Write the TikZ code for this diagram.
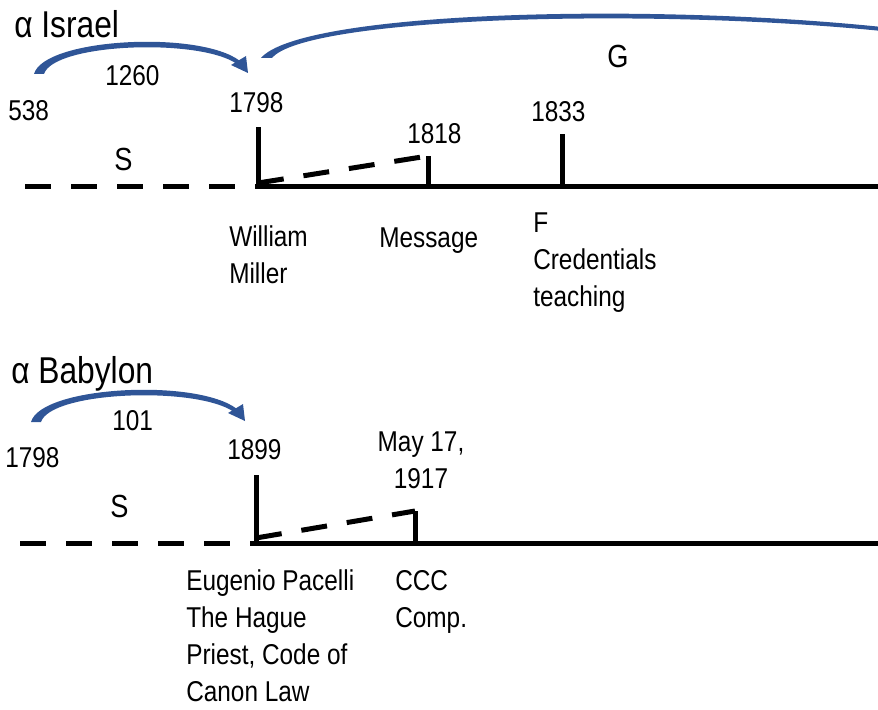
\documentclass[tikz,border=0pt]{standalone}
\usepackage{fontspec}
\setmainfont[FakeStretch=0.85]{Liberation Sans}
\begin{document}
\begin{tikzpicture}[x=0.75pt,y=-0.75pt,
  lbl/.style={anchor=base west,inner sep=0pt,font=\fontsize{21.5}{27.75}\selectfont,align=left},
  ttl/.style={anchor=base west,inner sep=0pt,font=\fontsize{28}{32}\selectfont},
  solidline/.style={line width=3.75pt},
  dashline/.style={line width=3.75pt,dash pattern=on 19.5pt off 15pt},
  tick/.style={line width=3.75pt},
  arrowfill/.style={fill={rgb,255:red,47;green,85;blue,151}}]
\useasboundingbox (0,0) rectangle (878,710);

% ===== Israel =====
\node[ttl] (ti) at (14,38) {α Israel};
\node[lbl] (y538) at (8,120) {538};
\node[lbl] (y1260) at (105,86) {1260};
\node[lbl] (y1798) at (229,113) {1798};
\node[lbl] (y1818) at (407,143) {1818};
\node[lbl] (y1833) at (531,121) {1833};
\node[lbl,font=\fontsize{24}{28}\selectfont] (G) at (607,68) {G};
\node[lbl,font=\fontsize{24}{28}\selectfont] (S1) at (114,170) {S};
\node[lbl] (wm) at (229,283) {William\\Miller};
\node[lbl] (msg) at (379,247) {Message};
\node[lbl] (fct) at (533,306) {F\\Credentials\\teaching};

\coordinate (a0) at (25,186);
\coordinate (a1) at (258,186);
\coordinate (a2) at (878,186);
\coordinate (a1t) at (258,127);
\coordinate (a3) at (428,186);
\coordinate (a3t) at (428,156);
\coordinate (a1s) at (258,183);
\coordinate (a4) at (562,186);
\coordinate (a4t) at (562,134);

\draw[dashline] (a0) -- (a1);
\draw[solidline] (a1) -- (a2);
\draw[tick] (a1t) -- (a1);
\draw[dashline] (a1s) -- (a3t);
\draw[tick] (a3t) -- (a3);
\draw[tick] (a4t) -- (a4);

% small arrow Israel
\fill[arrowfill] (34,74) .. controls (44,38) and (200,30) .. (240,61)
  -- (237,64) .. controls (200,38) and (54,43) .. (44,74) -- cycle;
\fill[arrowfill] (231,65) -- (246,56) -- (248,73) -- cycle;
% big arc G
\fill[arrowfill] (261,58) .. controls (300,12) and (640,2) .. (882,27)
  -- (882,31) .. controls (640,7) and (305,18) .. (272,58) -- cycle;

% ===== Babylon =====
\node[ttl] (tb) at (11,383) {α Babylon};
\node[lbl] (b1798) at (5,467) {1798};
\node[lbl] (b101) at (112,430) {101};
\node[lbl] (b1899) at (227,459) {1899};
\node[lbl,font=\fontsize{24}{28}\selectfont] (S2) at (110,517) {S};
\node[lbl,align=center,anchor=base] (may) at (421,488) {May 17,\\1917};
\node[lbl] (ep) at (186,701) {Eugenio Pacelli\\The Hague\\Priest, Code of\\Canon Law};
\node[lbl] (ccc) at (395,627) {CCC\\Comp.};

\coordinate (b0) at (20,543);
\coordinate (b1) at (256,543);
\coordinate (b2) at (878,543);
\coordinate (b1t) at (256,475);
\coordinate (b1s) at (256,538);
\coordinate (b3) at (415,543);
\coordinate (b3t) at (415,511);

\draw[dashline] (b0) -- (b1);
\draw[solidline] (b1) -- (b2);
\draw[tick] (b1t) -- (b1);
\draw[dashline] (b1s) -- (b3t);
\draw[tick] (b3t) -- (b3);

\begin{scope}[shift={(-3,348)}]
\fill[arrowfill] (34,74) .. controls (44,38) and (200,30) .. (240,61)
  -- (237,64) .. controls (200,38) and (54,43) .. (44,74) -- cycle;
\fill[arrowfill] (231,65) -- (246,56) -- (248,73) -- cycle;
\end{scope}
\end{tikzpicture}
\end{document}
